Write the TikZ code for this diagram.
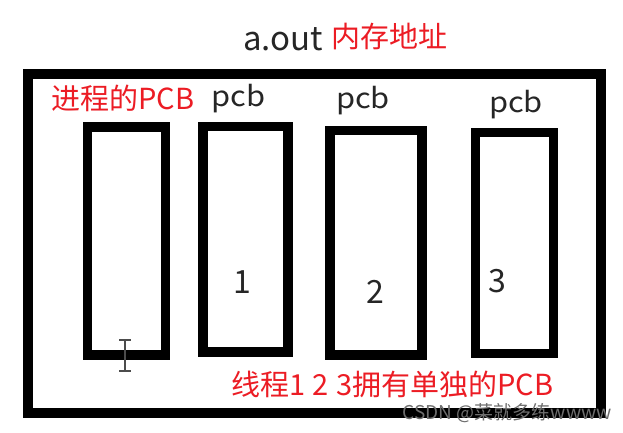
\documentclass[tikz,border=0pt]{standalone}
\usepackage{fontspec}
\setmainfont{Noto Sans CJK SC}
\definecolor{txtred}{RGB}{236,28,36}
\definecolor{wmgray}{RGB}{110,110,110}
\begin{document}
\begin{tikzpicture}[x=1pt,y=-1pt,
  frame/.style={draw=black,line width=10pt},
  pcbbox/.style={draw=black,line width=9.5pt},
  redtxt/.style={text=txtred,inner sep=0pt,font=\fontsize{29}{31}\selectfont},
  blktxt/.style={text=black!85,inner sep=0pt},
  pcbtxt/.style={blktxt,anchor=base,font=\fontsize{28}{30}\selectfont},
  numtxt/.style={blktxt,anchor=base,font=\fontsize{32}{34}\selectfont},
  wm/.style={text=wmgray,inner sep=0pt,font=\fontsize{19}{21}\selectfont}]
\useasboundingbox[fill=white] (0,0) rectangle (623,432);
% outer memory frame
\draw[frame] (27.5,74) rectangle (601,413);
% PCB boxes
\draw[pcbbox] (87.5,127) rectangle (165.5,355);
\draw[pcbbox] (203,126.5) rectangle (288,352);
\draw[pcbbox] (330,130.5) rectangle (422,355);
\draw[pcbbox] (475.5,132.5) rectangle (553.5,353.5);
% titles
\node[blktxt,anchor=base west,font=\fontsize{33}{35}\selectfont] (aout) at (243,50) {a.out};
\node[redtxt,anchor=base west] (addr) at (331,47) {内存地址};
\node[redtxt,anchor=base west] (proc) at (51,109) {进程的PCB};
\node[pcbtxt] (pcbA) at (238.5,106) {\scalebox{1.1}[1]{pcb}};
\node[pcbtxt] (pcbB) at (363,108) {\scalebox{1.1}[1]{pcb}};
\node[pcbtxt] (pcbC) at (516,112) {\scalebox{1.1}[1]{pcb}};
\node[numtxt] (n1) at (242.5,293) {1};
\node[numtxt] (n2) at (375,303) {2};
\node[numtxt] (n3) at (497.5,292) {3};
\node[redtxt,anchor=base west] (thr) at (231,395) {线程1\hspace{1pt} 2\hspace{1pt} 3拥有单独的PCB};
% mouse cursor
\draw[black!70,line width=1.5pt] (125,340) -- (125,371);
\draw[black!70,line width=2pt] (119,340) -- (131,340) (119,370.5) -- (131,370.5);
% watermark
\node[wm,anchor=base east] (wmk) at (612,419) {CSDN @菜就多练wwww};
\end{tikzpicture}
\end{document}
